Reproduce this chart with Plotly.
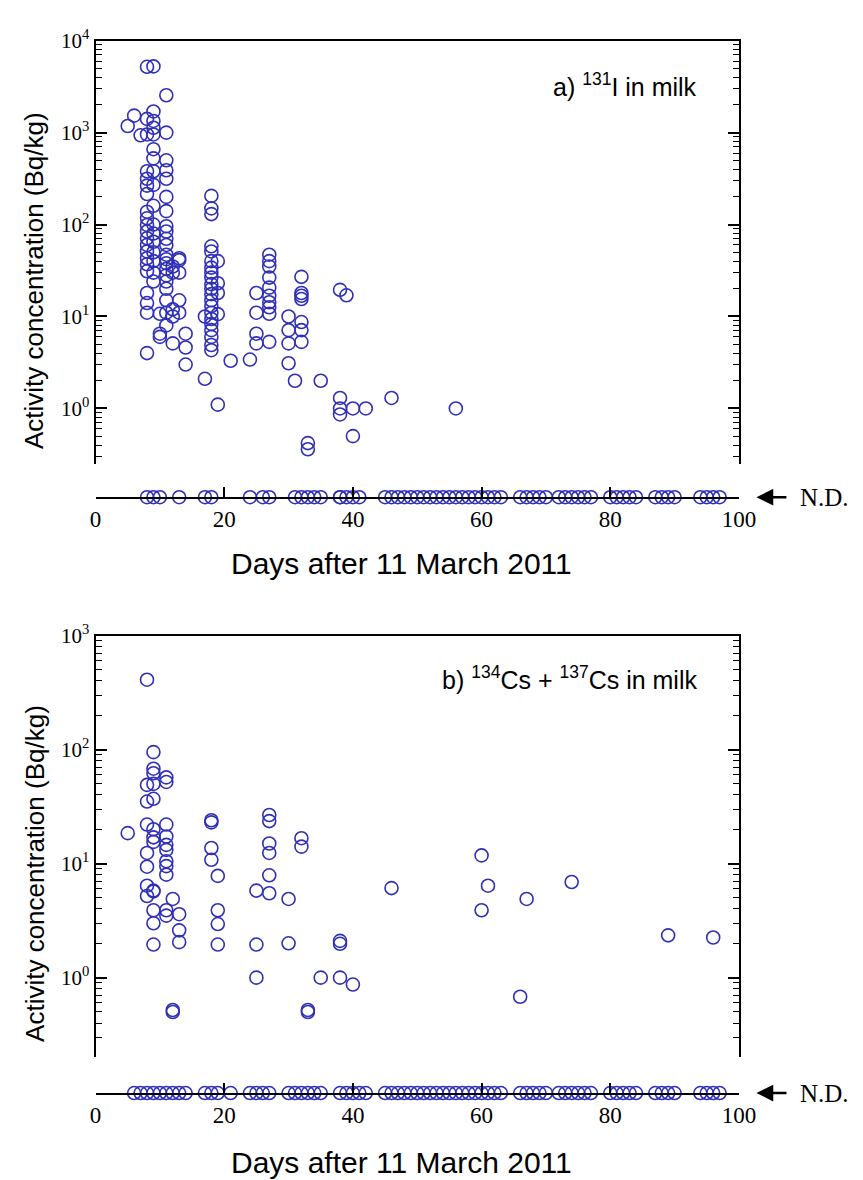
import plotly.graph_objects as go

# ---------------- data ----------------
# a) 131I in milk : detected values per day (Bq/kg)
i131_by_day = {
    5: [1180],
    6: [1530],
    7: [935],
    8: [5200, 1410, 955, 380, 315, 265, 215, 138, 117, 99, 84, 71, 60, 51, 43, 37, 31, 18, 14, 11, 4.0],
    9: [5250, 1700, 1340, 1130, 955, 660, 525, 380, 270, 160, 100, 80, 65, 50, 40, 30, 24],
    10: [10.7, 6.5, 6.0],
    11: [2550, 1000, 500, 390, 315, 200, 140, 96, 84, 70, 60, 47, 42, 38, 33, 28, 24, 20, 15, 11, 8],
    12: [35, 30, 12, 10, 5.1],
    13: [43, 41, 30, 15, 11],
    14: [6.5, 4.6, 3.0],
    17: [10, 2.1],
    18: [205, 150, 130, 58, 51, 40, 34, 30, 26.5, 22.5, 20, 17.5, 15, 13, 11, 9.4, 8.3, 7.1, 6.0, 4.9, 4.3],
    19: [40, 23, 18, 10.6, 1.1],
    21: [3.3],
    24: [3.4],
    25: [18, 11, 6.5, 5.1],
    27: [47, 40, 35, 26.5, 20.6, 16.8, 14.3, 12.6, 10.7, 5.3],
    30: [10, 7.1, 5.1, 3.1],
    31: [2.0],
    32: [27, 18, 16.8, 15.5, 8.7, 7.1, 5.3],
    33: [0.42, 0.36],
    35: [2.0],
    38: [19.5, 1.3, 1.0, 0.86],
    39: [17],
    40: [1.0, 0.5],
    42: [1.0],
    46: [1.3],
    56: [1.0],
}
# a) days with not-detected results
i131_nd_days = [8, 9, 10, 13, 17, 18, 24, 26, 27, 31, 32, 33, 34, 35, 38, 38, 39, 40, 41,
                45, 46, 47, 48, 49, 50, 51, 52, 53, 54, 55, 56, 57, 58, 59, 60, 61, 62, 63,
                66, 67, 68, 69, 70, 72, 73, 74, 75, 76, 77, 80, 81, 82, 83, 84,
                87, 88, 89, 90, 94, 95, 96, 97]

# b) 134Cs + 137Cs in milk
cs_by_day = {
    5: [18.5],
    8: [410, 49, 35, 22, 12.4, 9.4, 6.4, 5.2],
    9: [95, 68, 62, 50, 37, 20, 17, 15.5, 5.8, 5.7, 3.9, 3.0, 1.95],
    11: [57, 52, 22, 17.3, 14.6, 13.2, 10.5, 9.5, 8.0, 3.9, 3.5],
    12: [4.9, 0.52, 0.5],
    13: [3.6, 2.6, 2.05],
    18: [24, 23, 13.7, 10.8],
    19: [7.8, 3.9, 2.95, 1.95],
    25: [5.8, 1.95, 1.0],
    27: [26.7, 23.6, 15, 12.4, 7.9, 5.5],
    30: [4.9, 2.0],
    32: [16.7, 14.1],
    33: [0.52, 0.5],
    35: [1.0],
    38: [2.1, 1.98, 1.0],
    40: [0.87],
    46: [6.1],
    60: [11.8, 3.9],
    61: [6.4],
    66: [0.68],
    67: [4.9],
    74: [6.9],
    89: [2.35],
    96: [2.25],
}
cs_nd_days = [6, 7, 8, 9, 10, 11, 12, 13, 14, 17, 18, 19, 21, 24, 25, 26, 27,
              30, 31, 32, 33, 34, 35, 38, 39, 40, 41, 42,
              45, 46, 47, 48, 49, 50, 51, 52, 53, 54, 55, 56, 57, 58, 59, 60, 61, 62, 63,
              66, 67, 68, 69, 70, 72, 73, 74, 75, 76, 77, 80, 81, 82, 83, 84,
              87, 88, 89, 90, 94, 95, 96, 97]

x_tickvals = [0, 20, 40, 60, 80, 100]
x_ticktext = ["0", "20", "40", "60", "80", "100"]
ya_tickvals = [1, 10, 100, 1000, 10000]
ya_ticktext = ["10<sup>0</sup>", "10<sup>1</sup>", "10<sup>2</sup>", "10<sup>3</sup>", "10<sup>4</sup>"]
yb_tickvals = [1, 10, 100, 1000]
yb_ticktext = ["10<sup>0</sup>", "10<sup>1</sup>", "10<sup>2</sup>", "10<sup>3</sup>"]

x_title = "Days after 11 March 2011"
y_title = "Activity concentration (Bq/kg)"
label_a = "a) <sup>131</sup>I in milk"
label_b = "b) <sup>134</sup>Cs + <sup>137</sup>Cs in milk"


def flatten(d):
    xs, ys = [], []
    for k, vals in d.items():
        for v in vals:
            xs.append(k)
            ys.append(v)
    return xs, ys


# ---------------- layout geometry ----------------
W, H = 863, 1180
X0, X1 = 92, 753
def py(p):
    return 1 - p / H

MARK = dict(symbol="circle-open", size=13, color="#2f2fb8", line=dict(width=1.6, color="#2f2fb8"))

fig = go.Figure()
ax_, ay_ = flatten(i131_by_day)
bx_, by_ = flatten(cs_by_day)
fig.add_trace(go.Scatter(x=ax_, y=ay_, mode="markers", marker=MARK, xaxis="x", yaxis="y", cliponaxis=False))
fig.add_trace(go.Scatter(x=i131_nd_days, y=[0] * len(i131_nd_days), mode="markers", marker=MARK,
                         xaxis="x2", yaxis="y2", cliponaxis=False))
fig.add_trace(go.Scatter(x=bx_, y=by_, mode="markers", marker=MARK, xaxis="x3", yaxis="y3", cliponaxis=False))
fig.add_trace(go.Scatter(x=cs_nd_days, y=[0] * len(cs_nd_days), mode="markers", marker=MARK,
                         xaxis="x4", yaxis="y4", cliponaxis=False))

xdom = [X0 / W, X1 / W]
minor_vals = [k * 10 ** n for n in range(-1, 4) for k in range(2, 10)]
serif = "Liberation Serif"
sans = "Liberation Sans"

def top_x(anchor):
    return dict(domain=xdom, range=[0, 100], anchor=anchor, side="top", showline=True, linewidth=2,
                linecolor="black", ticks="", showticklabels=False, showgrid=False, zeroline=False)

def nd_x(anchor):
    return dict(domain=xdom, range=[0, 100], anchor=anchor, showline=True, linewidth=2, linecolor="black",
                ticks="inside", ticklen=10, tickwidth=1.5, tickcolor="black",
                tickvals=x_tickvals, ticktext=x_ticktext, tickfont=dict(family=serif, size=23, color="black"),
                showgrid=False, zeroline=False)

def log_y(anchor, rng, dom, tv, tt):
    return dict(type="log", range=rng, domain=dom, anchor=anchor, showline=True, linewidth=2,
                linecolor="black", mirror="allticks", ticks="inside", ticklen=11, tickwidth=1.5,
                tickcolor="black", tickvals=tv, ticktext=tt,
                tickfont=dict(family=serif, size=21, color="black"),
                minor=dict(ticks="inside", ticklen=6, tickwidth=1.2, tickcolor="black",
                           tickvals=minor_vals, showgrid=False),
                showgrid=False, zeroline=False)

def nd_y(anchor, line_px):
    return dict(domain=[py(line_px), py(line_px - 12)], range=[0, 1], anchor=anchor, visible=False)

fig.update_layout(
    width=W, height=H, autosize=False,
    margin=dict(l=0, r=0, t=0, b=0),
    paper_bgcolor="white", plot_bgcolor="rgba(0,0,0,0)",
    showlegend=False,
    xaxis=top_x("y"),
    yaxis=log_y("x", [-0.6, 4], [py(455), py(27)], ya_tickvals, ya_ticktext),
    xaxis2=nd_x("y2"),
    yaxis2=nd_y("x2", 489),
    xaxis3=top_x("y3"),
    yaxis3=log_y("x3", [-0.7, 3], [py(1056), py(629)], yb_tickvals, yb_ticktext),
    xaxis4=nd_x("y4"),
    yaxis4=nd_y("x4", 1092),
)

ann = []
for ycen_title, ylab, ylbl, ynd, lbl in [(556, 270, 72, 489, label_a), (1162, 870, 672, 1092, label_b)]:
    ann.append(dict(text=x_title, x=406 / W, y=py(ycen_title), xref="paper", yref="paper",
                    showarrow=False, xanchor="center", yanchor="middle",
                    font=dict(family=sans, size=30, color="black")))
    ann.append(dict(text=y_title, x=29 / W, y=py(ylab), xref="paper", yref="paper", textangle=-90,
                    showarrow=False, xanchor="center", yanchor="middle",
                    font=dict(family=sans, size=26, color="black")))
    ann.append(dict(text=lbl, x=712 / W, y=py(ylbl), xref="paper", yref="paper",
                    showarrow=False, xanchor="right", yanchor="middle",
                    font=dict(family=sans, size=25, color="black")))
    ann.append(dict(text="N.D.", x=771 / W, y=py(ynd), xref="paper", yref="paper",
                    ax=68, ay=0, showarrow=True, arrowhead=2, arrowsize=1.4, arrowwidth=2.4,
                    arrowcolor="black", standoff=0, startstandoff=12,
                    font=dict(family=serif, size=25, color="black")))
fig.update_layout(annotations=ann)

fig.write_html("out.html")
